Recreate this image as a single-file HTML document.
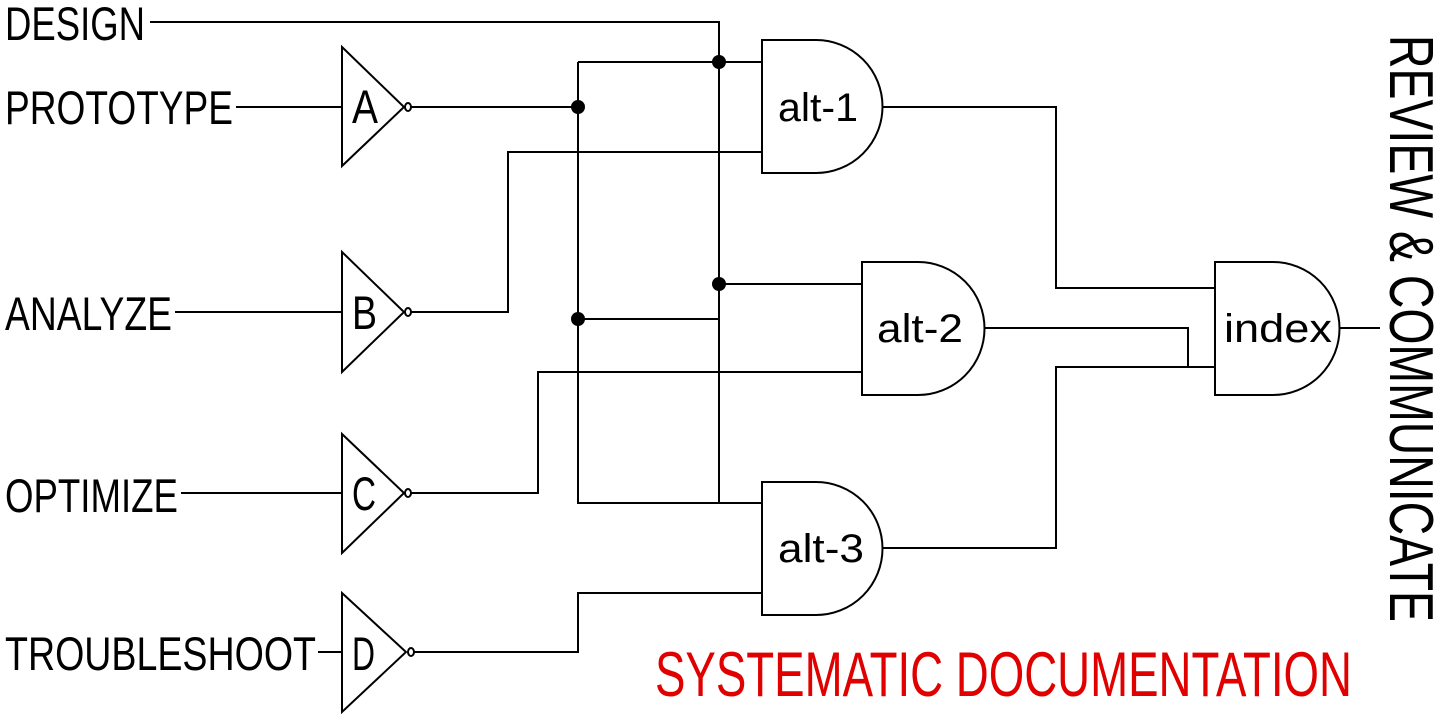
<!DOCTYPE html>
<html><head><meta charset="utf-8"><style>html,body{margin:0;padding:0;background:#fff;}svg{display:block}</style></head>
<body>
<svg width="1440" height="720" viewBox="0 0 1440 720" xmlns="http://www.w3.org/2000/svg">
<g font-family="Liberation Sans, sans-serif" fill="#000">
<text x="5" y="40" font-size="47" textLength="140" lengthAdjust="spacingAndGlyphs">DESIGN</text>
<text x="5" y="124" font-size="47" textLength="228" lengthAdjust="spacingAndGlyphs">PROTOTYPE</text>
<text x="5" y="330" font-size="47" textLength="167" lengthAdjust="spacingAndGlyphs">ANALYZE</text>
<text x="5" y="512" font-size="47" textLength="173" lengthAdjust="spacingAndGlyphs">OPTIMIZE</text>
<text x="5" y="670" font-size="47" textLength="311" lengthAdjust="spacingAndGlyphs">TROUBLESHOOT</text>
<text x="352" y="123" font-size="47" textLength="26" lengthAdjust="spacingAndGlyphs">A</text>
<text x="352" y="329" font-size="47" textLength="25" lengthAdjust="spacingAndGlyphs">B</text>
<text x="352" y="510" font-size="47" textLength="24" lengthAdjust="spacingAndGlyphs">C</text>
<text x="352" y="670" font-size="47" textLength="23" lengthAdjust="spacingAndGlyphs">D</text>
<text x="778" y="121" font-size="40" textLength="80" lengthAdjust="spacingAndGlyphs">alt-1</text>
<text x="877" y="342" font-size="40" textLength="86" lengthAdjust="spacingAndGlyphs">alt-2</text>
<text x="778" y="562" font-size="40" textLength="86" lengthAdjust="spacingAndGlyphs">alt-3</text>
<text x="1224" y="342" font-size="40" textLength="108" lengthAdjust="spacingAndGlyphs">index</text>
<text transform="translate(1390,35) rotate(90)" x="0" y="0" font-size="62" textLength="587" lengthAdjust="spacingAndGlyphs">REVIEW &amp; COMMUNICATE</text>
<text x="655" y="696" font-size="63" fill="#e00000" textLength="697" lengthAdjust="spacingAndGlyphs">SYSTEMATIC DOCUMENTATION</text>
</g>
<g fill="none" stroke="#000" stroke-width="2">
<path d="M342,47 L404,107 L342,166 Z"/><ellipse cx="408" cy="107" rx="3" ry="4"/>
<path d="M342,252 L404,312 L342,372 Z"/><ellipse cx="408" cy="312" rx="3" ry="4"/>
<path d="M342,434 L404,493 L342,553 Z"/><ellipse cx="408" cy="493" rx="3" ry="4"/>
<path d="M342,593 L406,652 L342,712 Z"/><ellipse cx="411" cy="652" rx="3" ry="4"/>
<path d="M150,22 H719 V503"/>
<path d="M236,107 H342"/>
<path d="M175,312 H342"/>
<path d="M181,493 H342"/>
<path d="M318,652 H342"/>
<path d="M411,107 H578"/>
<path d="M578,62 V503 H762"/>
<path d="M578,62 H762"/>
<path d="M411,312 H508 V152 H762"/>
<path d="M578,319 H719"/>
<path d="M719,284 H862"/>
<path d="M411,493 H538 V372 H862"/>
<path d="M414,652 H578 V593 H762"/>
<path d="M762,40 H816 A66.5,66.5 0 0 1 816,173 H762 Z"/>
<path d="M862,262 H918 A66.5,66.5 0 0 1 918,395 H862 Z"/>
<path d="M762,482 H816 A66.5,66.5 0 0 1 816,615 H762 Z"/>
<path d="M1215,262 H1273 A66.5,66.5 0 0 1 1273,395 H1215 Z"/>
<path d="M882,107 H1056 V288 H1215"/>
<path d="M985,328 H1188 V367 H1215"/>
<path d="M882,548 H1056 V367 H1188"/>
<path d="M1340,328 H1380"/>
</g>
<g fill="#000">
<circle cx="719" cy="62" r="7"/>
<circle cx="578" cy="107" r="7"/>
<circle cx="719" cy="284" r="7"/>
<circle cx="578" cy="319" r="7"/>
</g>
</svg>
</body></html>
